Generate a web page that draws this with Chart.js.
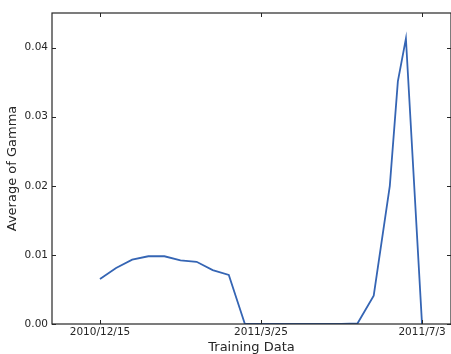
<!DOCTYPE html>
<html>
<head>
<meta charset="utf-8">
<script src="https://cdn.jsdelivr.net/npm/chart.js@4.4.1/dist/chart.umd.min.js"></script>
<style>
  html, body { margin: 0; padding: 0; background: #fff; }
  #wrap { width: 451px; height: 354px; overflow: hidden; }
</style>
</head>
<body>
<div id="wrap"><canvas id="chart" width="451" height="354"></canvas></div>
<script>
// Dates of each point and the average gamma
const dates = [
  '2010-12-15', '2010-12-25', '2011-01-04', '2011-01-14', '2011-01-24', '2011-02-03',
  '2011-02-13', '2011-02-23', '2011-03-05', '2011-03-15', '2011-03-25', '2011-04-04',
  '2011-04-14', '2011-04-24', '2011-05-04', '2011-05-14', '2011-05-24', '2011-06-03',
  '2011-06-13', '2011-06-18', '2011-06-23', '2011-07-03'
];
const gamma = [
  0.0065, 0.0081, 0.0093, 0.0098, 0.0098, 0.0092,
  0.0090, 0.0078, 0.0071, 0.0000, 0.0000, 0.0000,
  0.0000, 0.0000, 0.0000, 0.0000, 0.0001, 0.0041,
  0.0200, 0.0351, 0.0413, 0.0000
];
const xTickDates = ['2010-12-15', '2011-03-25', '2011-07-03'];
const xTickLabels = ['2010/12/15', '2011/3/25', '2011/7/3'];
const yTicks = [0, 0.01, 0.02, 0.03, 0.04];

const DAY = 86400000;
const origin = Date.parse(dates[0]);
const toDay = d => (Date.parse(d) - origin) / DAY;
const xTickDays = xTickDates.map(toDay);

const axisColor = '#262626';
const font = 'DejaVu Sans';

// Box round the plot with short inward ticks on all four sides
const framePlugin = {
  id: 'frame',
  afterDatasetsDraw(chart) {
    const { ctx, chartArea: a, scales: { x, y } } = chart;
    ctx.save();
    ctx.strokeStyle = axisColor;
    ctx.lineWidth = 1.2;
    ctx.strokeRect(a.left, a.top, a.right - a.left, a.bottom - a.top);
    ctx.lineWidth = 1;
    ctx.beginPath();
    x.ticks.forEach(t => {
      const px = Math.round(x.getPixelForValue(t.value)) + 0.5;
      ctx.moveTo(px, a.bottom); ctx.lineTo(px, a.bottom - 4);
      ctx.moveTo(px, a.top); ctx.lineTo(px, a.top + 4);
    });
    y.ticks.forEach(t => {
      const py = Math.round(y.getPixelForValue(t.value)) + 0.5;
      ctx.moveTo(a.left, py); ctx.lineTo(a.left + 4, py);
      ctx.moveTo(a.right, py); ctx.lineTo(a.right - 4, py);
    });
    ctx.stroke();
    ctx.restore();
  }
};

new Chart(document.getElementById('chart'), {
  type: 'line',
  data: {
    datasets: [{
      data: dates.map((d, i) => ({ x: toDay(d), y: gamma[i] })),
      borderColor: '#3565b4',
      borderWidth: 1.8,
      pointRadius: 0,
      tension: 0,
      fill: false
    }]
  },
  options: {
    responsive: false,
    animation: false,
    devicePixelRatio: 1,
    layout: { padding: { top: 13, right: -1, left: 0, bottom: 0 } },
    plugins: { legend: { display: false }, tooltip: { enabled: false } },
    scales: {
      x: {
        type: 'linear',
        min: -29.8,
        max: 218,
        afterBuildTicks: s => { s.ticks = xTickDays.map(v => ({ value: v })); },
        afterFit: s => { s.height = 30; },
        grid: { display: false, drawTicks: false },
        border: { display: false },
        ticks: {
          autoSkip: false,
          maxRotation: 0,
          padding: 2,
          color: axisColor,
          font: { family: font, size: 10.5 },
          callback: v => xTickLabels[xTickDays.indexOf(v)]
        },
        title: {
          display: true,
          text: 'Training Data',
          color: axisColor,
          font: { family: font, size: 13 },
          padding: { top: 0, bottom: -1 }
        }
      },
      y: {
        min: 0,
        max: 0.045,
        afterBuildTicks: s => { s.ticks = yTicks.map(v => ({ value: v })); },
        afterFit: s => { s.width = 52; },
        grid: { display: false, drawTicks: false },
        border: { display: false },
        ticks: {
          padding: 4,
          color: axisColor,
          font: { family: font, size: 10.5 },
          callback: v => v.toFixed(2)
        },
        title: {
          display: true,
          text: 'Average of Gamma',
          color: axisColor,
          font: { family: font, size: 13 },
          padding: { top: 5, bottom: 0 }
        }
      }
    }
  },
  plugins: [framePlugin]
});
</script>
</body>
</html>
